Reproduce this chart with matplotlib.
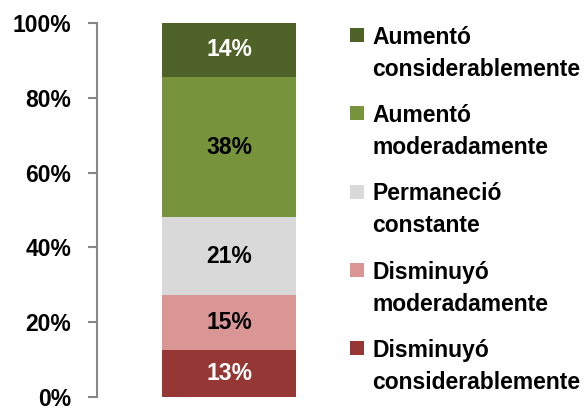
import matplotlib
matplotlib.use("Agg")
import matplotlib.pyplot as plt
from matplotlib.patches import Rectangle
from matplotlib.ticker import FuncFormatter

# shares from bottom to top (percent, rounded labels shown on the bar)
categories = ["Disminuyó\nconsiderablemente", "Disminuyó\nmoderadamente",
              "Permaneció\nconstante", "Aumentó\nmoderadamente",
              "Aumentó\nconsiderablemente"]
shares = [12.6, 14.6, 20.8, 37.6, 14.4]
colors = ["#953735", "#D99694", "#D9D9D9", "#77933C", "#4F6228"]
label_colors = ["white", "black", "black", "black", "white"]
yticks = [0, 20, 40, 60, 80, 100]

plt.rcParams["font.family"] = ["Liberation Sans", "DejaVu Sans"]
plt.rcParams["font.weight"] = "bold"
FS = 16.5

W, H = 584, 408
fig = plt.figure(figsize=(W / 100, H / 100), dpi=100)
ax = fig.add_axes([97 / W, (H - 397.3) / H, 264 / W, 374.6 / H])

bottom = 0
for val, col, lc in zip(shares, colors, label_colors):
    ax.bar(0, val, bottom=bottom, width=0.508, color=col, linewidth=0)
    ax.text(0, bottom + val / 2, "%.0f%%" % val, ha="center", va="center",
            color=lc, fontsize=FS, fontweight="bold")
    bottom += val

ax.set_xlim(-0.5, 0.5)
ax.set_ylim(0, 100)
ax.set_yticks(yticks)
ax.yaxis.set_major_formatter(FuncFormatter(lambda v, p: "%d%%" % v))
ax.set_xticks([])
for s in ["top", "right", "bottom"]:
    ax.spines[s].set_visible(False)
ax.spines["left"].set_color("#868686")
ax.spines["left"].set_linewidth(1.5)
ax.tick_params(axis="y", direction="out", length=6.5, width=1.5,
               color="#868686", pad=12, labelsize=FS)
for t in ax.get_yticklabels():
    t.set_fontweight("bold")

# legend drawn by hand: square next to the first line of each label
for i, (cat, col) in enumerate(zip(categories[::-1], colors[::-1])):
    yc = 35 + i * 78.25
    fig.patches.append(Rectangle((350 / W, 1 - (yc + 7) / H), 14 / W, 14 / H,
                                 transform=fig.transFigure, color=col,
                                 linewidth=0))
    fig.text(372 / W, 1 - (yc - 9) / H, cat, ha="left", va="top",
             fontsize=FS, fontweight="bold", linespacing=1.5)

fig.savefig("out.png", dpi=100)
